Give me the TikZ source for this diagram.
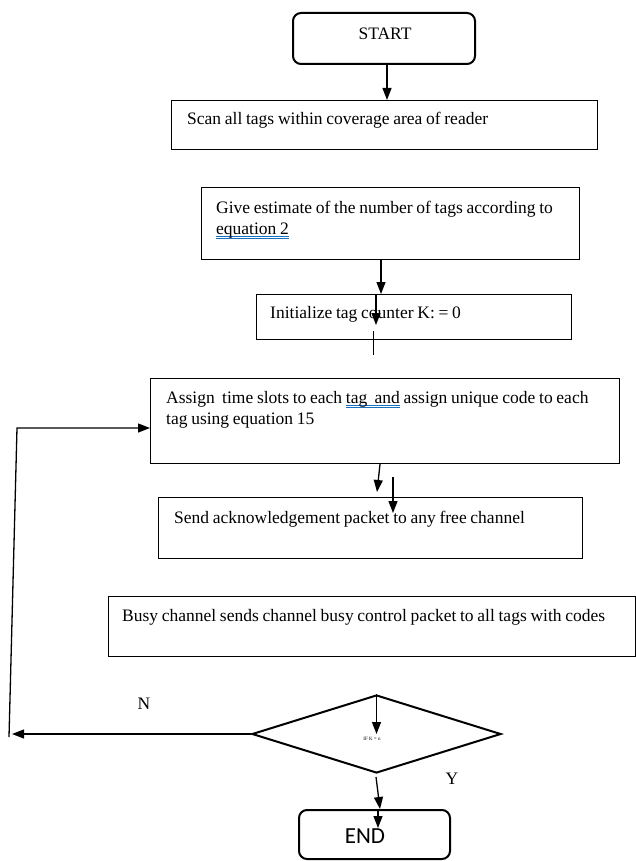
\documentclass[tikz,border=0pt]{standalone}
\usepackage{fontspec}
\setmainfont{Liberation Serif}
\newfontfamily\endfont{Carlito}
\usepackage[dvipsnames]{xcolor}
\usetikzlibrary{shapes.geometric,arrows.meta}

% text size of the boxes, with a bit narrower spaces
\newcommand\tagfont{\fontsize{17.5}{21}\selectfont\spaceskip=3.7pt\relax}
% blue double line under a word, as the spell checker left it
\newcommand\gramline[1]{\setbox0\hbox{#1}\rlap{\color{RoyalBlue}\rule[-2.6pt]{\wd0}{0.6pt}\llap{\rule[-4.2pt]{\wd0}{0.6pt}}}\box0\relax}

\begin{document}
\begin{tikzpicture}[x=1pt,y=-1pt]
	\tikzset{box/.style = {draw, rectangle, line width=1.1pt, inner sep=0pt, anchor=north west},
		termbox/.style = {box, rounded corners=8pt, line width=2pt},
		decision/.style = {draw, diamond, line width=2pt, inner sep=0pt, minimum width=249pt, minimum height=78pt},
		txt/.style = {anchor=base west, inner sep=0pt, font=\tagfont},
		flow/.style = {-{Triangle[length=12pt,width=9pt]}, line width=1.3pt}}
	\useasboundingbox (0,0) rectangle (636,861);
	%boxes
	\node[termbox, minimum width=182pt, minimum height=51pt] (start) at (292,12) {};
	\node[box, minimum width=426pt, minimum height=49pt] (scan) at (171,100) {};
	\node[box, minimum width=378pt, minimum height=72pt] (est) at (201,187) {};
	\node[box, minimum width=315pt, minimum height=45pt] (init) at (256,294) {};
	\node[box, minimum width=469pt, minimum height=85pt] (assign) at (150,378) {};
	\node[box, minimum width=424pt, minimum height=61pt] (send) at (158,497) {};
	\node[box, minimum width=527pt, minimum height=60pt] (busy) at (108,596) {};
	\node[decision] (dec) at (376.5,734) {};
	\node[termbox, minimum width=151pt, minimum height=49pt] (end) at (298,809) {};
	%texts
	\node[txt, anchor=base] (starttxt) at (385,40) {START};
	\node[txt] (scantxt) at (187,125) {Scan all tags within coverage area of reader};
	\node[txt] (esttxt) at (216,213) {Give estimate of the number of tags according to};
	\node[txt] (esttxtb) at (216,234) {\gramline{equation 2}};
	\node[txt] (inittxt) at (270,318) {Initialize tag counter K: = 0};
	\node[txt] (assigntxt) at (166,403) {Assign\ \ time slots to each \gramline{tag\ \ and} assign unique code to each};
	\node[txt] (assigntxtb) at (166,424) {tag using equation 15};
	\node[txt] (sendtxt) at (174,523) {Send acknowledgement packet to any free channel};
	\node[txt] (busytxt) at (122,621) {Busy channel sends channel busy control packet to all tags with codes};
	\node[inner sep=0pt, font=\fontsize{5}{6}\selectfont] (dectxt) at (372,738.5) {IF K = n};
	\node[txt, anchor=center] (ntxt) at (144,704) {N};
	\node[txt, anchor=center] (ytxt) at (452,779) {Y};
	\node[inner sep=0pt, anchor=base, font=\endfont\fontsize{23}{26}\selectfont] (endtxt) at (365,843) {END};
	%free ends
	\coordinate (x1) at (387,0);
	\coordinate (x2) at (381,0);
	\coordinate (initarr) at (376,325);
	\coordinate (stubtop) at (373,331);
	\coordinate (stubend) at (373,355);
	\coordinate (x3) at (380,0);
	\coordinate (asgarr) at (377,492);
	\coordinate (sendtop) at (393,477);
	\coordinate (sendarr) at (393,513);
	\coordinate (nback) at (12,734);
	\coordinate (nfoot) at (9,737);
	\coordinate (ncorner) at (17,428);
	\coordinate (decfoot) at (376,777);
	\coordinate (x4) at (380,0);
	\coordinate (endarr) at (378,828);
	%connectors
	\draw[flow] (start.south -| x1) -- (scan.north -| x1);
	\draw[flow] (est.south -| x2) -- (init.north -| x2);
	\draw[flow] (init.north -| initarr) -- (initarr);
	\draw[line width=1pt] (stubtop) -- (stubend);
	\draw[flow] (assign.south -| x3) -- (asgarr);
	\draw[flow] (sendtop) -- (sendarr);
	\draw[flow] (dec.north) -- (dec.center);
	\draw[flow] (dec.west) -- (nback);
	\draw[flow] (nfoot) -- (ncorner) -- (ncorner -| assign.west);
	\draw[flow] (decfoot) -- (end.north -| x4);
	\draw[flow] (end.north -| endarr) -- (endarr);
\end{tikzpicture}
\end{document}
